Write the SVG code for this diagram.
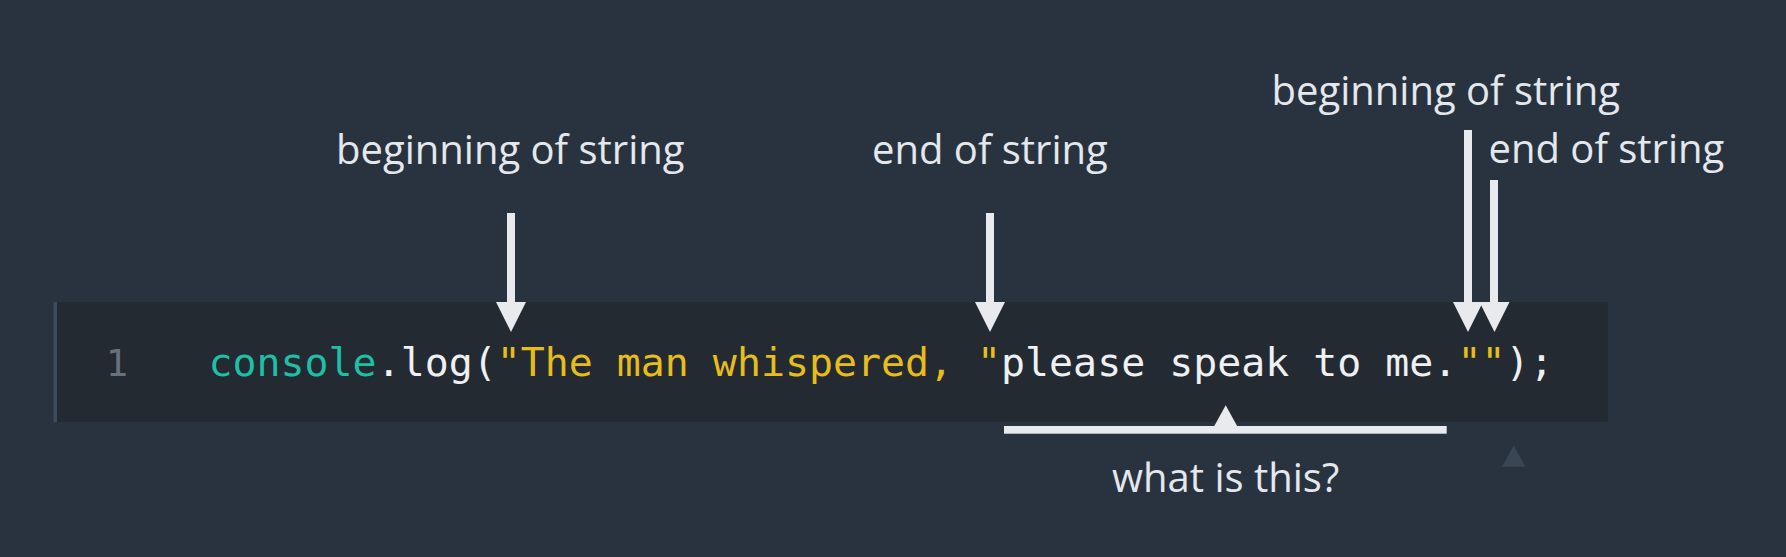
<svg xmlns="http://www.w3.org/2000/svg" width="1786" height="557" viewBox="0 0 1786 557">
  <style>
    .label { font-family: "Open Sans", "Noto Sans", sans-serif; font-size: 40px; font-weight: 400; fill: #e4e8ed; }
    .code { font-family: "DejaVu Sans Mono", "Liberation Mono", monospace; font-size: 39.9px; fill: #eef0f2; }
    .kw { fill: #1fbfa6; }
    .str { fill: #e6bd1c; }
    .ln { font-family: "DejaVu Sans Mono", "Liberation Mono", monospace; font-size: 37px; fill: #69727c; }
    .arrow { fill: #e8eaee; }
  </style>
  <rect x="0" y="0" width="1786" height="557" fill="#29333f"/>
  <g id="code-panel">
    <rect x="53.5" y="302" width="1554.5" height="120" fill="#232a32"/>
    <rect x="53.5" y="302" width="3.5" height="120" fill="#3d4c5c"/>
    <text class="ln" x="117" y="376" text-anchor="middle">1</text>
    <text class="code" x="208.5" y="376"><tspan class="kw">console</tspan>.log(<tspan class="str">"The man whispered, "</tspan>please speak to me.<tspan class="str">""</tspan>);</text>
  </g>
  <g id="label-begin-1">
    <text class="label" x="336" y="163.5">beginning of string</text>
  </g>
  <g id="label-end-1">
    <text class="label" x="872" y="163.5">end of string</text>
  </g>
  <g id="label-begin-2">
    <text class="label" x="1271.5" y="104.7">beginning of string</text>
  </g>
  <g id="label-end-2">
    <text class="label" x="1488.5" y="163">end of string</text>
  </g>
  <g id="label-what">
    <text class="label" x="1112" y="491.7">what is this?</text>
  </g>
  <g id="connectors">
    <rect class="arrow" x="507" y="213" width="8" height="90"/>
    <polygon class="arrow" points="496,302 526,302 511,332"/>
    <rect class="arrow" x="986" y="213" width="8" height="90"/>
    <polygon class="arrow" points="975,302 1005,302 990,332"/>
    <rect class="arrow" x="1464" y="130" width="8" height="173"/>
    <polygon class="arrow" points="1453,302 1483,302 1468,332"/>
    <rect class="arrow" x="1490" y="180" width="8" height="123"/>
    <polygon class="arrow" points="1479.5,302 1509.5,302 1494.5,332"/>
    <rect class="arrow" x="1004" y="426" width="442.7" height="7.7"/>
    <polygon class="arrow" points="1225.7,405.3 1214,426.5 1237.4,426.5"/>
    <polygon points="1513.7,445.7 1502,466.7 1525.4,466.7" fill="#3a4654"/>
  </g>
</svg>
